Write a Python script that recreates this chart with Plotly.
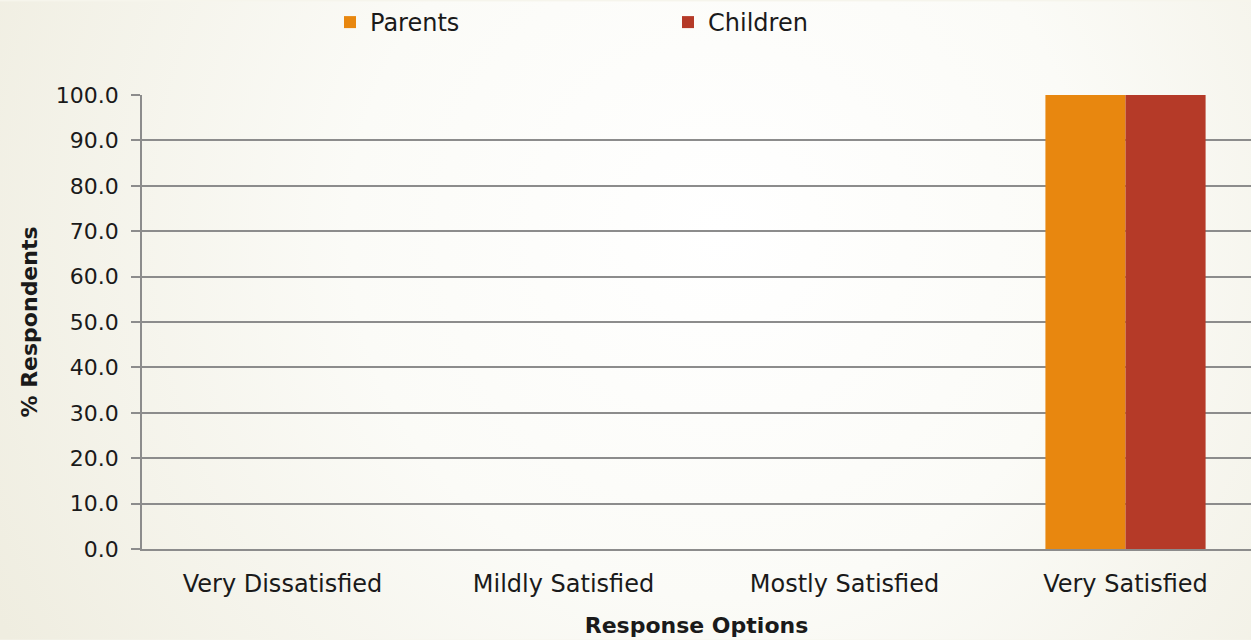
import base64
import plotly.graph_objects as go

categories = ["Very Dissatisfied", "Mildly Satisfied", "Mostly Satisfied", "Very Satisfied"]
parents = [0.0, 0.0, 0.0, 100.0]
children = [0.0, 0.0, 0.0, 100.0]
y_ticks = [0, 10, 20, 30, 40, 50, 60, 70, 80, 90, 100]

W, H = 1251, 640
L, R, T, B = 142, 0, 94, 91
pw, ph = W - L - R, H - T - B

svg = f"""<svg xmlns='http://www.w3.org/2000/svg' width='{W}' height='{H}' viewBox='0 0 {W} {H}'>
<defs><radialGradient id='g' gradientUnits='userSpaceOnUse' cx='720' cy='230' r='820'>
<stop offset='0' stop-color='#ffffff'/><stop offset='0.45' stop-color='#fbfbf7'/><stop offset='1' stop-color='#efede0'/>
</radialGradient></defs><rect width='{W}' height='{H}' fill='url(#g)'/></svg>"""
src = "data:image/svg+xml;base64," + base64.b64encode(svg.encode()).decode()

font = "DejaVu Sans"
grid = "#8c8c8c"
c_par = "#E8870F"
c_chi = "#B53A28"

fig = go.Figure()
fig.add_trace(go.Bar(name="Parents", x=categories, y=parents, marker_color=c_par,
                     marker_line_width=0))
fig.add_trace(go.Bar(name="Children", x=categories, y=children, marker_color=c_chi,
                     marker_line_width=0))

fig.update_layout(
    width=W, height=H,
    margin=dict(l=L, r=R, t=T, b=B, pad=0),
    paper_bgcolor="#f6f5ec",
    plot_bgcolor="rgba(0,0,0,0)",
    barmode="group", bargap=0.43, bargroupgap=0,
    font=dict(family=font, color="#1a1a1a", size=22),
    images=[dict(source=src, xref="paper", yref="paper", x=-L / pw, y=1 + T / ph,
                 sizex=W / pw, sizey=H / ph, xanchor="left", yanchor="top",
                 sizing="stretch", layer="below")],
    legend=dict(orientation="h", x=(330 - L) / pw, xanchor="left", y=1 + (T - 21) / ph,
                yanchor="middle", font=dict(size=24, family=font), itemwidth=30,
                entrywidth=293, entrywidthmode="pixels", bgcolor="rgba(0,0,0,0)"),
    showlegend=True,
)
fig.update_xaxes(
    range=[-0.5, -0.5 + pw / 281.0],
    showline=True, linecolor=grid, linewidth=1.5,
    showgrid=False, ticks="",
    tickfont=dict(size=24, family=font),
    ticklabelstandoff=12,
    title=dict(text="<b>Response Options</b>", font=dict(size=22, family=font), standoff=21),
)
fig.update_yaxes(
    range=[0, 100], tickvals=y_ticks, tickformat=".1f",
    showline=True, linecolor=grid, linewidth=1.5,
    showgrid=True, gridcolor=grid, gridwidth=1.5,
    zeroline=False,
    ticks="outside", ticklen=9, tickcolor=grid, tickwidth=1.5,
    tickfont=dict(size=22, family=font),
    ticklabelstandoff=8,
    title=dict(text="<b>% Respondents</b>", font=dict(size=22, family=font), standoff=12),
)
fig.write_html("out.html", config={"displayModeBar": False},
               post_script="document.body.style.margin='0';")
